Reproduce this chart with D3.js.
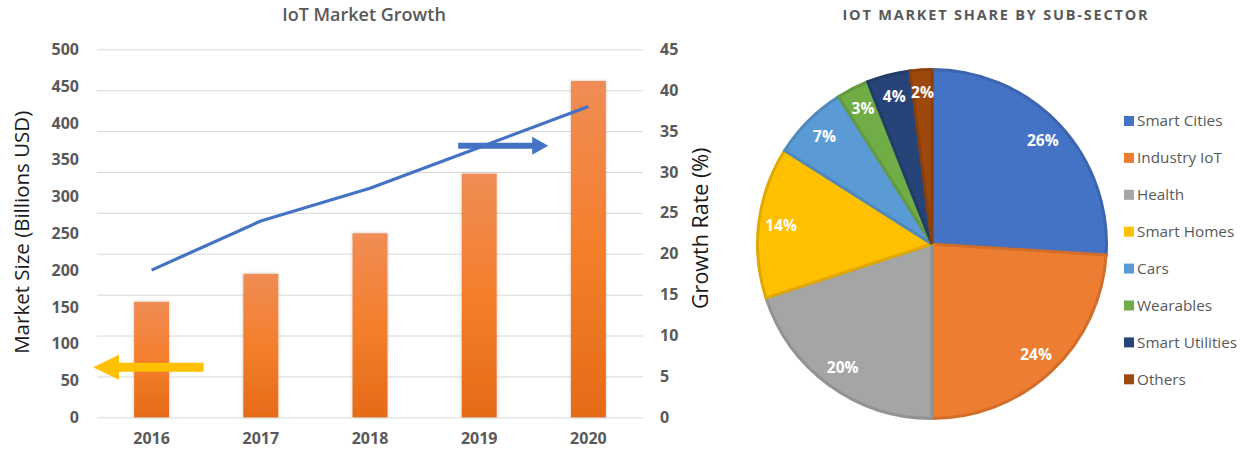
<!DOCTYPE html>
<html>
<head>
<meta charset="utf-8">
<script src="https://cdn.jsdelivr.net/npm/d3@7"></script>
<style>
  html, body { margin: 0; padding: 0; background: #fff; }
  svg { display: block; font-family: "Open Sans", "Liberation Sans", sans-serif; }
</style>
</head>
<body>
<svg id="chart" width="1245" height="455"></svg>
<script>
// ---- Market growth data ----
const years = ["2016", "2017", "2018", "2019", "2020"];
const marketSize = [157, 195, 250, 331, 457];      // billions USD
const growthRate = [18, 24, 28, 33, 38];           // percent
const sizeTicks = [0, 50, 100, 150, 200, 250, 300, 350, 400, 450, 500];
const rateTicks = [0, 5, 10, 15, 20, 25, 30, 35, 40, 45];

// ---- Market share data ----
const sectors = ["Smart Cities", "Industry IoT", "Health", "Smart Homes", "Cars", "Wearables", "Smart Utilities", "Others"];
const shares = [26, 24, 20, 14, 7, 3, 4, 2];
const sectorColors = ["#4472C4", "#ED7D31", "#A5A5A5", "#FFC000", "#5B9BD5", "#70AD47", "#264478", "#9E480E"];

const svg = d3.select("#chart");
const defs = svg.append("defs");

const barGrad = defs.append("linearGradient")
  .attr("id", "barGrad").attr("x1", 0).attr("y1", 0).attr("x2", 0).attr("y2", 1);
barGrad.append("stop").attr("offset", "0%").attr("stop-color", "#F08C55");
barGrad.append("stop").attr("offset", "50%").attr("stop-color", "#F47F2C");
barGrad.append("stop").attr("offset", "100%").attr("stop-color", "#E56B18");

const shadow = defs.append("filter").attr("id", "barShadow")
  .attr("x", "-30%").attr("y", "-10%").attr("width", "160%").attr("height", "120%");
shadow.append("feDropShadow").attr("dx", 0).attr("dy", 0).attr("stdDeviation", 1.5)
  .attr("flood-color", "#000").attr("flood-opacity", 0.25);

const tickFont = g => g.selectAll("text")
  .attr("font-family", "'Open Sans', sans-serif")
  .attr("font-size", 16).attr("font-weight", 700).attr("fill", "#595959");

// ================= Left: bar + line combo =================
const plot = { left: 97, right: 643, top: 49.3, bottom: 417.3 };

const x = d3.scaleBand().domain(years).range([plot.left, plot.right]).paddingInner(0.68).paddingOuter(0.34);
const yL = d3.scaleLinear().domain([0, 500]).range([plot.bottom, plot.top]);
const yR = d3.scaleLinear().domain([0, 45]).range([plot.bottom, plot.top]);

const left = svg.append("g");

// gridlines follow the growth-rate axis
left.append("g")
  .call(d3.axisRight(yR).tickValues(rateTicks).tickSize(plot.right - plot.left).tickFormat(""))
  .attr("transform", `translate(${plot.left},0)`)
  .call(g => g.select(".domain").remove())
  .call(g => g.selectAll("line").attr("stroke", "#D9D9D9").attr("stroke-width", 1));

// left axis labels
left.append("g")
  .attr("transform", `translate(${plot.left - 18},0)`)
  .call(d3.axisLeft(yL).tickValues(sizeTicks).tickSize(0).tickPadding(0))
  .call(g => g.select(".domain").remove())
  .call(tickFont);

// right axis labels
left.append("g")
  .attr("transform", `translate(${plot.right + 17},0)`)
  .call(d3.axisRight(yR).tickValues(rateTicks).tickSize(0).tickPadding(0))
  .call(g => g.select(".domain").remove())
  .call(tickFont);

// category labels
left.append("g")
  .attr("transform", `translate(0,${plot.bottom + 15})`)
  .call(d3.axisBottom(x).tickSize(0).tickPadding(0))
  .call(g => g.select(".domain").remove())
  .call(tickFont);

// bars
left.append("g").selectAll("rect")
  .data(years.map((yr, i) => ({ yr, v: marketSize[i] })))
  .join("rect")
  .attr("x", d => x(d.yr))
  .attr("width", x.bandwidth())
  .attr("y", d => yL(d.v))
  .attr("height", d => yL(0) - yL(d.v))
  .attr("fill", "url(#barGrad)")
  .attr("filter", "url(#barShadow)");

// growth line
const line = d3.line()
  .x((d, i) => x(years[i]) + x.bandwidth() / 2)
  .y(d => yR(d));
left.append("path")
  .datum(growthRate)
  .attr("d", line)
  .attr("fill", "none")
  .attr("stroke", "#4472C4")
  .attr("stroke-width", 3.2)
  .attr("stroke-linejoin", "round");

// axis direction arrows
function arrow(x0, x1, yc, shaft, headLen, headH, color) {
  const dir = Math.sign(x1 - x0);
  const hb = x1 - dir * headLen;
  const p = d3.path();
  p.moveTo(x0, yc - shaft / 2);
  p.lineTo(hb, yc - shaft / 2);
  p.lineTo(hb, yc - headH / 2);
  p.lineTo(x1, yc);
  p.lineTo(hb, yc + headH / 2);
  p.lineTo(hb, yc + shaft / 2);
  p.lineTo(x0, yc + shaft / 2);
  p.closePath();
  left.append("path").attr("d", p.toString()).attr("fill", color);
}
const c2016 = x("2016") + x.bandwidth() / 2;
const c2019 = x("2019") + x.bandwidth() / 2;
arrow(c2016 + 52, plot.left - 4, yL(68), 9, 26, 25, "#FFC000");
arrow(c2019 - 21, c2019 + 69, yR(33.2), 6, 16, 18, "#4472C4");

// titles
left.append("text")
  .attr("x", (plot.left + plot.right) / 2 - 6).attr("y", 21)
  .attr("text-anchor", "middle")
  .attr("font-family", "'Open Sans', sans-serif")
  .attr("font-size", 18).attr("font-weight", 600).attr("fill", "#595959")
  .text("IoT Market Growth");

left.append("text")
  .attr("transform", `translate(29,${(plot.top + plot.bottom) / 2 - 1}) rotate(-90)`)
  .attr("text-anchor", "middle")
  .attr("font-family", "'Open Sans', sans-serif")
  .attr("font-size", 20.5).attr("fill", "#1a1a1a")
  .text("Market Size (Billions USD)");

left.append("text")
  .attr("transform", `translate(708,${(plot.top + plot.bottom) / 2 - 5}) rotate(-90)`)
  .attr("text-anchor", "middle")
  .attr("font-family", "'Open Sans', sans-serif")
  .attr("font-size", 21.5).attr("fill", "#1a1a1a")
  .text("Growth Rate (%)");

// ================= Right: pie =================
const cx = 932, cy = 244, R = 176;
const pieG = svg.append("g").attr("transform", `translate(${cx},${cy})`);
const color = d3.scaleOrdinal().domain(sectors).range(sectorColors);

const pie = d3.pie().sort(null).value(d => d.v);
const arcs = pie(sectors.map((s, i) => ({ s, v: shares[i] })));
const arc = d3.arc().innerRadius(0).outerRadius(R - 1.5);
const labelArc = d3.arc().innerRadius(152).outerRadius(152);

pieG.selectAll("path")
  .data(arcs)
  .join("path")
  .attr("d", arc)
  .attr("fill", d => color(d.data.s))
  .attr("stroke", d => d3.color(color(d.data.s)).darker(0.35))
  .attr("stroke-width", 3)
  .attr("stroke-linejoin", "miter");

pieG.selectAll("text")
  .data(arcs)
  .join("text")
  .attr("transform", d => `translate(${labelArc.centroid(d)})`)
  .attr("text-anchor", "middle")
  .attr("dy", "0.36em")
  .attr("font-family", "'Open Sans', sans-serif")
  .attr("font-size", 15.5).attr("font-weight", 700).attr("fill", "#fff")
  .text(d => d.data.v + "%");

svg.append("text")
  .attr("x", 996).attr("y", 20)
  .attr("text-anchor", "middle")
  .attr("font-family", "'Open Sans', sans-serif")
  .attr("font-size", 14.5).attr("font-weight", 700).attr("fill", "#595959")
  .attr("letter-spacing", 1.8)
  .text("IOT MARKET SHARE BY SUB-SECTOR");

// legend
const legend = svg.append("g").attr("transform", "translate(1124,121)");
const rows = legend.selectAll("g")
  .data(sectors)
  .join("g")
  .attr("transform", (d, i) => `translate(0,${i * 36.9})`);
rows.append("rect")
  .attr("x", 0).attr("y", -5).attr("width", 10).attr("height", 10)
  .attr("fill", d => color(d));
rows.append("text")
  .attr("x", 13).attr("dy", "0.35em")
  .attr("font-family", "'Open Sans', sans-serif")
  .attr("font-size", 15.3).attr("fill", "#595959")
  .text(d => d);
</script>
</body>
</html>
